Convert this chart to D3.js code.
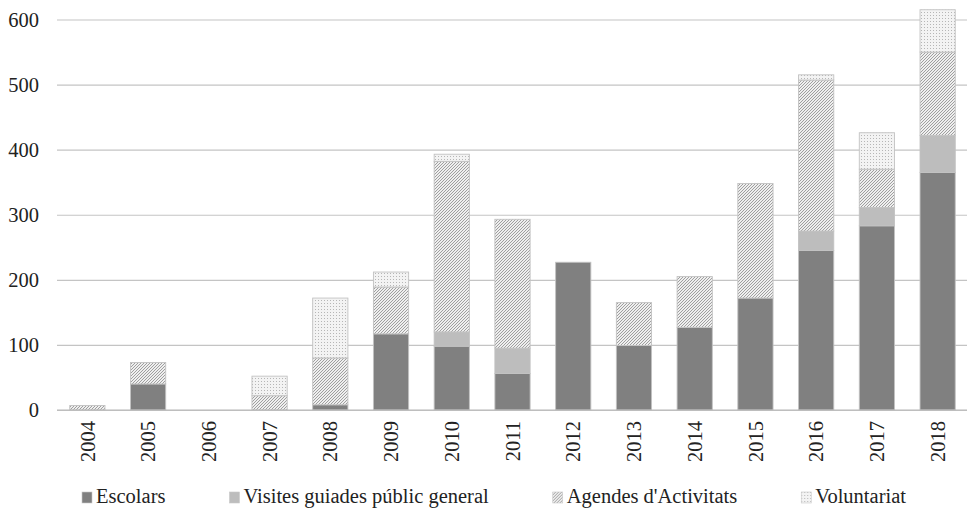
<!DOCTYPE html>
<html>
<head>
<meta charset="utf-8">
<script src="https://cdn.jsdelivr.net/npm/d3@7"></script>
<style>
  body { margin: 0; background: #fff; }
  text { font-family: "Liberation Serif", "Times New Roman", "DejaVu Serif", serif; fill: #222; }
</style>
</head>
<body>
<svg id="viewport" width="967" height="509"></svg>
<script>
// years on the x axis
const years = ['2004', '2005', '2006', '2007', '2008', '2009', '2010', '2011',
  '2012', '2013', '2014', '2015', '2016', '2017', '2018'];
// one array per series
const escolars = [0, 40, 0, 0, 8, 117, 98, 56, 227, 99, 127, 172, 245, 283, 365];
const visites = [0, 0, 0, 0, 0, 0, 22, 39, 0, 0, 0, 0, 30, 28, 57];
const agendes = [7, 33, 0, 22, 72, 72, 262, 198, 0, 66, 78, 176, 232, 59, 128];
const voluntariat = [0, 0, 0, 30, 92, 23, 11, 0, 0, 0, 0, 0, 8, 56, 65];
const seriesNames = ['Escolars', 'Visites guiades públic general', "Agendes d'Activitats", 'Voluntariat'];
const yTicks = [0, 100, 200, 300, 400, 500, 600];

const serif = '"Liberation Serif", "Times New Roman", "DejaVu Serif", serif';
const svg = d3.select('#viewport');
const defs = svg.append('defs');

// diagonal hatch for Agendes
const hatch = defs.append('pattern')
  .attr('id', 'hatch')
  .attr('patternUnits', 'userSpaceOnUse')
  .attr('width', 3)
  .attr('height', 3);
hatch.append('rect').attr('width', 3).attr('height', 3).attr('fill', '#efefef');
hatch.append('path')
  .attr('d', 'M-1,1 l2,-2 M0,3 l3,-3 M2,4 l2,-2')
  .attr('stroke', '#7c7c7c')
  .attr('stroke-width', 0.7);

// fine dots for Voluntariat
const dots = defs.append('pattern')
  .attr('id', 'dots')
  .attr('patternUnits', 'userSpaceOnUse')
  .attr('width', 3)
  .attr('height', 3);
dots.append('rect').attr('width', 3).attr('height', 3).attr('fill', '#f3f3f3');
dots.append('rect').attr('width', 0.9).attr('height', 0.9).attr('fill', '#a8a8a8');

const fills = ['#808080', '#bdbdbd', 'url(#hatch)', 'url(#dots)'];

const x = d3.scaleBand().domain(years).range([57, 968]).paddingInner(0.42).paddingOuter(0.21);
const y = d3.scaleLinear().domain([0, 600]).range([410, 19.5]);

// gridlines and y labels
const yAxis = svg.append('g')
  .attr('transform', 'translate(57,0)')
  .call(d3.axisLeft(y).tickValues(yTicks).tickSize(-911).tickPadding(18));
yAxis.select('.domain').remove();
yAxis.selectAll('.tick line').attr('stroke', '#c4c4c4').attr('stroke-width', 1.2);
yAxis.selectAll('.tick text')
  .style('font-family', serif)
  .style('font-size', '20.5px')
  .attr('fill', '#222');

// stacked bars
const table = years.map((yr, i) => ({
  year: yr, s0: escolars[i], s1: visites[i], s2: agendes[i], s3: voluntariat[i],
}));
const stack = d3.stack().keys(['s0', 's1', 's2', 's3'])(table);

svg.append('g')
  .selectAll('g')
  .data(stack)
  .join('g')
  .attr('fill', (d, i) => fills[i])
  .selectAll('rect')
  .data((d) => d.filter((p) => p[1] - p[0] > 0))
  .join('rect')
  .attr('x', (d) => x(d.data.year))
  .attr('width', x.bandwidth())
  .attr('y', (d) => y(d[1]))
  .attr('height', (d) => y(d[0]) - y(d[1]))
  .attr('stroke', '#c2c2c2')
  .attr('stroke-width', 0.9);

// baseline
svg.append('line')
  .attr('x1', 57).attr('x2', 968)
  .attr('y1', y(0)).attr('y2', y(0))
  .attr('stroke', '#b8b8b8')
  .attr('stroke-width', 1.2);

// rotated year labels
svg.append('g')
  .selectAll('text')
  .data(years)
  .join('text')
  .attr('transform', (d) => `translate(${x(d) + x.bandwidth() / 2},421) rotate(-90)`)
  .attr('text-anchor', 'end')
  .attr('dy', '0.35em')
  .style('font-family', serif)
  .style('font-size', '20.5px')
  .text((d) => d);

// legend
const legend = svg.append('g').attr('class', 'legend');
let lx = 82;
seriesNames.forEach((name, i) => {
  const item = legend.append('g').attr('transform', `translate(${lx},0)`);
  item.append('rect')
    .attr('x', 0).attr('y', 492)
    .attr('width', 10).attr('height', 11)
    .attr('fill', fills[i])
    .attr('stroke', '#c8c8c8')
    .attr('stroke-width', 0.6);
  const t = item.append('text')
    .attr('x', 14).attr('y', 503)
    .style('font-family', serif)
    .style('font-size', '20.5px')
    .text(name);
  lx += 14 + t.node().getComputedTextLength() + 64;
});
</script>
</body>
</html>
